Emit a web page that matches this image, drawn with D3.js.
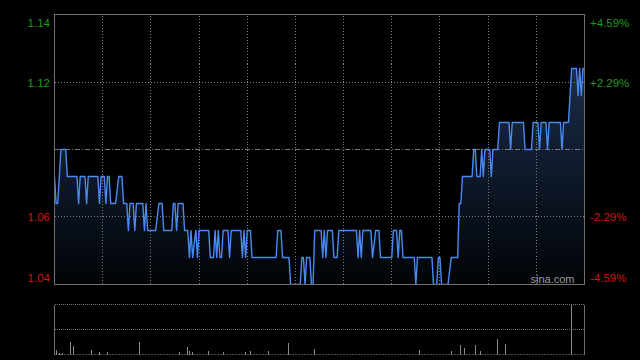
<!DOCTYPE html>
<html><head><meta charset="utf-8">
<script src="https://cdn.jsdelivr.net/npm/d3@7"></script>
<style>html,body{margin:0;padding:0;background:#000;overflow:hidden}svg{display:block}</style>
</head><body><svg id="c" width="640" height="360"></svg>
<script>
// ---- data ----
const prevClose = 1.09;
const pctRange = 4.59;
const tickPcts = [4.59, 2.29, 0, -2.29, -4.59];
const leftLabels = ["1.14", "1.12", "", "1.06", "1.04"];
const rightLabels = ["+4.59%", "+2.29%", "", "-2.29%", "-4.59%"];
const totalMinutes = 330;
const gridMinutes = [30, 60, 90, 120, 150, 180, 210, 240, 270, 300];
const priceMinutes = [0,1,2,4,7,8,14,15,16,19,20,21,27,28,29,31,32,33,34,35,38,40,42,43,45,46,47,49,50,51,55,56,57,58,63,65,67,68,73,74,75,76,77,80,81,83,84,85,86,88,89,90,96,97,99,100,101,102,103,104,105,108,109,110,115,116,117,118,119,120,122,123,138,139,141,142,146,147,153,154,155,156,157,159,160,161,162,166,167,168,169,170,173,174,176,177,188,189,190,191,192,197,198,200,202,203,210,211,213,214,215,216,217,224,225,226,235,236,238,239,240,241,245,247,251,252,253,254,260,261,262,263,265,266,267,268,271,272,273,276,277,283,284,285,292,293,297,298,301,302,303,306,307,308,315,316,317,320,322,325,326,327,328,329,330];
const prices = [1.08,1.07,1.07,1.09,1.09,1.08,1.08,1.07,1.08,1.08,1.07,1.08,1.08,1.07,1.08,1.08,1.07,1.08,1.08,1.07,1.07,1.08,1.08,1.07,1.07,1.06,1.07,1.07,1.06,1.07,1.07,1.06,1.07,1.06,1.06,1.07,1.07,1.06,1.06,1.07,1.07,1.06,1.07,1.07,1.06,1.06,1.05,1.06,1.05,1.06,1.05,1.06,1.06,1.05,1.05,1.06,1.05,1.06,1.05,1.05,1.06,1.06,1.05,1.06,1.06,1.06,1.05,1.06,1.05,1.06,1.06,1.05,1.05,1.06,1.06,1.05,1.05,1.04,1.04,1.05,1.05,1.04,1.05,1.05,1.04,1.04,1.06,1.06,1.05,1.06,1.05,1.06,1.06,1.05,1.05,1.06,1.06,1.05,1.06,1.05,1.06,1.06,1.05,1.06,1.06,1.05,1.05,1.06,1.06,1.05,1.06,1.06,1.05,1.05,1.04,1.05,1.05,1.04,1.04,1.05,1.05,1.04,1.04,1.05,1.05,1.07,1.07,1.08,1.08,1.09,1.09,1.08,1.08,1.09,1.08,1.09,1.09,1.08,1.09,1.09,1.10,1.10,1.09,1.10,1.10,1.09,1.09,1.10,1.10,1.09,1.10,1.10,1.09,1.10,1.10,1.09,1.10,1.10,1.12,1.12,1.11,1.12,1.11,1.12,1.12];
const volMinutes = [1,3,4,5,10,12,23,28,33,53,78,83,84,86,96,105,119,122,133,146,162,227,247,253,255,262,265,276,281,322];
const volumes = [8.6,3,2,3,24.6,16.6,8.6,4.6,4.6,24.6,4.6,15.3,7,5,7,4.6,4.6,7,7,23.3,10.6,8.6,6.6,18.6,14,18.6,7,30.6,20.6,100];
const volMax = 100;

// ---- layout ----
const L = 54.5, R = 584.5, T = 14.5, B = 284.5;
const VT = 304.5, VB = 354.5;
const svg = d3.select("#c");
svg.append("rect").attr("width", 640).attr("height", 360).attr("fill", "#000");

const x = d3.scaleLinear().domain([0, totalMinutes]).range([L, R]);
const y = d3.scaleLinear()
  .domain([prevClose * (1 - pctRange / 100), prevClose * (1 + pctRange / 100)])
  .range([B, T]);
const yv = d3.scaleLinear().domain([0, volMax]).range([VB, VT]);
const tickPrices = tickPcts.map(p => prevClose * (1 + p / 100));
const snap = v => Math.round(v - 0.5) + 0.5;

const grid = "#7a7a7a";
const defs = svg.append("defs");
const grad = defs.append("linearGradient").attr("id", "g").attr("gradientUnits", "userSpaceOnUse")
  .attr("x1", 0).attr("y1", y(1.12)).attr("x2", 0).attr("y2", B);
grad.append("stop").attr("offset", 0).attr("stop-color", "#1a2d4a");
grad.append("stop").attr("offset", 1).attr("stop-color", "#020407");

const pts = priceMinutes.map((m, i) => [m, prices[i]]);
svg.append("path").datum(pts)
  .attr("d", d3.area().x(d => x(d[0])).y0(B).y1(d => y(d[1])))
  .attr("fill", "url(#g)");

// vertical grid
svg.append("g").selectAll("line").data(gridMinutes).join("line")
  .attr("x1", d => snap(x(d))).attr("x2", d => snap(x(d)))
  .attr("y1", T + 1).attr("y2", B)
  .attr("stroke", grid).attr("stroke-dasharray", "1,2").attr("shape-rendering", "crispEdges");
// horizontal grid
svg.append("g").selectAll("line").data(tickPcts.filter(p => Math.abs(p) !== pctRange)).join("line")
  .attr("x1", L).attr("x2", R)
  .attr("y1", d => snap(y(prevClose * (1 + d / 100)))).attr("y2", d => snap(y(prevClose * (1 + d / 100))))
  .attr("stroke", grid).attr("shape-rendering", "crispEdges")
  .attr("stroke-dasharray", d => d === 0 ? "5,2,1,2" : "1,2");

svg.append("path").datum(pts)
  .attr("d", d3.line().x(d => x(d[0])).y(d => y(d[1])))
  .attr("fill", "none").attr("stroke", "#4a8af0").attr("stroke-width", 1.4)
  .attr("stroke-linejoin", "round");

// frame
svg.append("rect").attr("x", L).attr("y", T).attr("width", R - L).attr("height", B - T)
  .attr("fill", "none").attr("stroke", "#707070").attr("shape-rendering", "crispEdges");

// axes labels
const fontFam = "Arial, 'Liberation Sans', sans-serif";
const leftAxis = d3.axisLeft(y).tickValues(tickPrices).tickSize(0).tickPadding(4)
  .tickFormat((d, i) => leftLabels[i]);
const rightAxis = d3.axisRight(y).tickValues(tickPrices).tickSize(0).tickPadding(5)
  .tickFormat((d, i) => rightLabels[i]);
const gl = svg.append("g").attr("transform", `translate(${L - 0.5},0)`).call(leftAxis);
const gr = svg.append("g").attr("transform", `translate(${R + 0.5},0)`).call(rightAxis);
[gl, gr].forEach(g => {
  g.select(".domain").remove();
  g.selectAll("text")
    .attr("font-family", fontFam).attr("font-size", 11.5)
    .attr("fill", (d, i) => tickPcts[i] > 0 ? "#1f9a1f" : "#d01515")
    .attr("dy", (d, i) => i === 0 ? "1.0em" : (i === tickPcts.length - 1 ? "-0.25em" : "0.35em"));
});

svg.append("text").attr("x", R - 10).attr("y", B - 2).attr("text-anchor", "end")
  .attr("font-family", fontFam).attr("font-size", 11).attr("fill", "#9a9a9a").text("sina.com");

// volume panel
svg.append("line").attr("x1", L).attr("x2", R).attr("y1", VT).attr("y2", VT)
  .attr("stroke", grid).attr("stroke-dasharray", "1,1").attr("shape-rendering", "crispEdges");
svg.append("line").attr("x1", L).attr("x2", R).attr("y1", snap(yv(volMax / 2))).attr("y2", snap(yv(volMax / 2)))
  .attr("stroke", grid).attr("stroke-dasharray", "1,1").attr("shape-rendering", "crispEdges");
svg.append("line").attr("x1", L).attr("x2", R).attr("y1", VB).attr("y2", VB)
  .attr("stroke", "#4a4a4a").attr("stroke-dasharray", "2,1").attr("shape-rendering", "crispEdges");
svg.append("line").attr("x1", L).attr("x2", L).attr("y1", VT).attr("y2", VB).attr("stroke", "#707070").attr("shape-rendering", "crispEdges");
svg.append("line").attr("x1", R).attr("x2", R).attr("y1", VT).attr("y2", VB).attr("stroke", "#707070").attr("shape-rendering", "crispEdges");
svg.append("g").selectAll("line").data(volMinutes.map((m, i) => [m, volumes[i]])).join("line")
  .attr("x1", d => snap(x(d[0]))).attr("x2", d => snap(x(d[0])))
  .attr("y1", VB).attr("y2", d => yv(d[1]))
  .attr("stroke", "#8a8a8a").attr("stroke-width", 1).attr("shape-rendering", "crispEdges");
</script></body></html>
